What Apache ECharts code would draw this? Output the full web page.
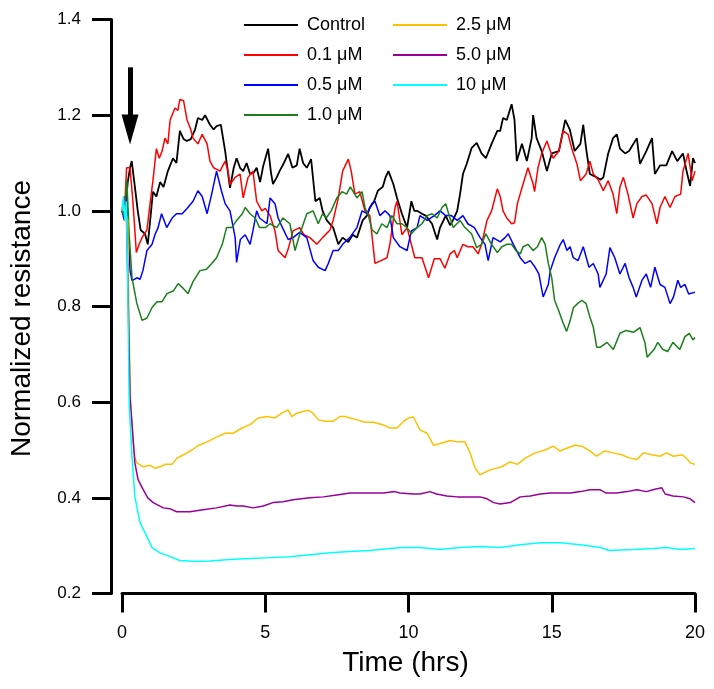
<!DOCTYPE html>
<html>
<head>
<meta charset="utf-8">
<script src="https://cdn.jsdelivr.net/npm/echarts@6/dist/echarts.min.js"></script>
<style>html,body{margin:0;padding:0;background:#fff}#c{width:714px;height:689px}</style>
</head>
<body>
<div id="c"></div>
<script>
const seriesNames = ['Control', '0.1 μM', '0.5 μM', '1.0 μM', '2.5 μM', '5.0 μM', '10 μM'];
const xTicks = [0, 5, 10, 15, 20];
const yTicks = [0.2, 0.4, 0.6, 0.8, 1.0, 1.2, 1.4];
const arrowTime = 0.28;
const arrowFrom = 1.30;
const arrowTo = 1.17;

const control = [[0,1.0],[0.1,0.99],[0.2,1.06],[0.28,1.09],[0.34,1.104],[0.45,1.05],[0.55,1.0],[0.65,0.96],[0.8,0.952],[0.9,0.93],[1.0,0.99],[1.08,1.04],[1.2,1.03],[1.33,1.06],[1.45,1.05],[1.6,1.083],[1.78,1.11],[1.9,1.1],[2.02,1.167],[2.15,1.15],[2.26,1.146],[2.4,1.15],[2.55,1.17],[2.65,1.194],[2.8,1.19],[2.9,1.2],[3.07,1.18],[3.2,1.17],[3.3,1.177],[3.45,1.18],[3.6,1.125],[3.77,1.048],[3.9,1.09],[4.0,1.11],[4.12,1.09],[4.23,1.083],[4.35,1.1],[4.47,1.077],[4.6,1.08],[4.7,1.09],[4.82,1.06],[4.93,1.094],[5.1,1.13],[5.2,1.08],[5.27,1.056],[5.4,1.07],[5.5,1.083],[5.65,1.1],[5.8,1.119],[5.95,1.09],[6.1,1.095],[6.2,1.13],[6.32,1.1],[6.45,1.09],[6.6,1.108],[6.75,1.02],[6.9,1.027],[7.0,1.0],[7.15,0.98],[7.37,0.965],[7.55,0.93],[7.7,0.944],[7.9,0.935],[8.05,0.95],[8.2,0.944],[8.4,0.98],[8.55,0.99],[8.65,1.007],[8.8,1.02],[8.93,1.042],[9.1,1.05],[9.2,1.07],[9.3,1.083],[9.47,1.056],[9.6,1.027],[9.77,0.994],[9.95,0.965],[10.1,1.02],[10.2,1.0],[10.3,1.0],[10.47,0.994],[10.6,0.99],[10.82,0.973],[11.0,0.94],[11.1,0.965],[11.3,0.99],[11.45,0.97],[11.55,0.98],[11.7,1.0],[11.8,1.035],[11.9,1.077],[12.03,1.098],[12.2,1.131],[12.38,1.142],[12.55,1.12],[12.7,1.11],[12.9,1.14],[13.1,1.167],[13.2,1.167],[13.3,1.194],[13.43,1.19],[13.6,1.223],[13.7,1.19],[13.78,1.104],[13.96,1.14],[14.13,1.104],[14.3,1.152],[14.35,1.2],[14.47,1.152],[14.65,1.125],[14.83,1.083],[15.0,1.12],[15.25,1.125],[15.47,1.19],[15.63,1.17],[15.8,1.125],[16.0,1.14],[16.1,1.18],[16.2,1.13],[16.33,1.077],[16.57,1.07],[16.7,1.065],[16.8,1.07],[16.97,1.12],[17.14,1.152],[17.27,1.16],[17.38,1.13],[17.56,1.12],[17.7,1.125],[17.97,1.152],[18.08,1.098],[18.3,1.125],[18.5,1.152],[18.6,1.077],[18.78,1.095],[19.0,1.095],[19.2,1.125],[19.38,1.104],[19.58,1.12],[19.7,1.085],[19.83,1.052],[19.93,1.11],[20,1.1]];

const dose01 = [[0,1.0],[0.08,0.99],[0.16,1.09],[0.28,1.09],[0.38,1.02],[0.45,0.958],[0.5,0.913],[0.6,0.93],[0.7,0.944],[0.87,0.96],[0.98,1.015],[1.08,1.063],[1.2,1.13],[1.3,1.11],[1.4,1.125],[1.5,1.152],[1.6,1.14],[1.68,1.19],[1.85,1.215],[1.95,1.21],[2.02,1.233],[2.15,1.23],[2.27,1.19],[2.4,1.17],[2.48,1.152],[2.65,1.14],[2.8,1.16],[2.97,1.14],[3.07,1.104],[3.2,1.09],[3.42,1.083],[3.6,1.104],[3.7,1.083],[3.77,1.055],[3.95,1.07],[4.12,1.077],[4.23,1.027],[4.4,1.07],[4.57,1.083],[4.7,1.02],[4.88,1.0],[5.0,1.005],[5.17,0.99],[5.34,0.958],[5.45,0.917],[5.69,0.902],[5.8,0.92],[5.97,0.958],[6.2,0.965],[6.35,0.95],[6.56,0.944],[6.8,0.93],[7.0,0.944],[7.26,0.96],[7.37,0.98],[7.55,1.027],[7.7,1.083],[7.9,1.108],[8.0,1.083],[8.13,1.035],[8.3,1.04],[8.48,1.0],[8.65,0.99],[8.83,0.89],[9.0,0.895],[9.25,0.902],[9.35,0.93],[9.53,1.007],[9.6,1.02],[9.77,0.95],[9.95,0.965],[10.1,0.93],[10.22,0.902],[10.47,0.902],[10.7,0.86],[10.9,0.9],[11.1,0.9],[11.27,0.88],[11.45,0.91],[11.6,0.917],[11.7,0.902],[11.9,0.93],[12.07,0.925],[12.25,0.925],[12.43,0.91],[12.55,0.93],[12.74,0.98],[12.9,1.0],[13.1,1.046],[13.2,1.03],[13.3,1.0],[13.43,0.985],[13.6,0.973],[13.7,0.975],[13.8,1.015],[14.0,1.056],[14.17,1.09],[14.35,1.056],[14.4,1.04],[14.52,1.09],[14.65,1.12],[14.83,1.146],[14.95,1.125],[15.05,1.11],[15.25,1.125],[15.4,1.167],[15.57,1.16],[15.7,1.13],[15.88,1.098],[16.0,1.063],[16.2,1.077],[16.33,1.104],[16.45,1.077],[16.62,1.065],[16.8,1.042],[16.97,1.063],[17.14,1.035],[17.27,0.994],[17.38,1.05],[17.5,1.07],[17.66,1.035],[17.84,0.985],[17.97,1.015],[18.15,1.03],[18.3,1.033],[18.5,1.015],[18.67,0.973],[18.78,1.007],[18.95,1.03],[19.13,1.007],[19.3,1.03],[19.5,1.035],[19.58,1.083],[19.76,1.12],[19.9,1.063],[20,1.083]];

const dose05 = [[0,1.0],[0.08,0.98],[0.17,1.027],[0.28,0.875],[0.35,0.854],[0.52,0.86],[0.63,0.857],[0.73,0.875],[0.87,0.917],[1.05,0.93],[1.15,0.95],[1.26,0.965],[1.38,0.994],[1.47,0.98],[1.56,0.965],[1.75,0.985],[1.9,0.994],[2.1,0.994],[2.27,1.005],[2.48,1.02],[2.65,1.042],[2.8,1.03],[2.97,0.994],[3.13,1.035],[3.3,1.083],[3.47,1.042],[3.6,1.015],[3.77,1.0],[3.95,0.944],[4.0,0.892],[4.13,0.94],[4.3,0.95],[4.47,0.93],[4.57,0.958],[4.7,1.0],[4.8,0.985],[5.06,0.973],[5.17,1.027],[5.34,1.015],[5.45,0.985],[5.6,0.965],[5.8,0.94],[5.97,0.944],[6.2,0.955],[6.45,0.944],[6.67,0.896],[6.85,0.882],[7.09,0.875],[7.2,0.89],[7.37,0.917],[7.55,0.917],[7.7,0.93],[7.95,0.944],[8.2,0.965],[8.38,1.0],[8.55,0.994],[8.73,1.015],[8.83,1.02],[9.0,0.99],[9.18,1.0],[9.35,0.99],[9.47,0.944],[9.7,0.925],[9.95,0.917],[10.1,0.958],[10.3,0.965],[10.4,0.99],[10.65,0.98],[10.9,0.99],[11.1,1.0],[11.3,0.99],[11.5,0.99],[11.7,0.98],[11.9,0.99],[12.07,0.973],[12.3,0.965],[12.5,0.944],[12.67,0.93],[12.78,0.896],[12.95,0.944],[13.2,0.935],[13.37,0.944],[13.48,0.952],[13.66,0.93],[13.9,0.902],[14.07,0.89],[14.25,0.896],[14.42,0.882],[14.55,0.868],[14.7,0.82],[14.88,0.846],[14.95,0.875],[15.1,0.902],[15.3,0.93],[15.4,0.94],[15.53,0.917],[15.64,0.925],[15.75,0.902],[15.92,0.896],[16.1,0.925],[16.3,0.882],[16.45,0.89],[16.62,0.868],[16.68,0.84],[16.9,0.868],[17.03,0.923],[17.2,0.902],[17.38,0.868],[17.56,0.89],[17.7,0.86],[17.84,0.84],[17.95,0.82],[18.15,0.855],[18.3,0.868],[18.45,0.84],[18.6,0.882],[18.78,0.846],[18.95,0.84],[19.13,0.806],[19.25,0.82],[19.4,0.855],[19.5,0.84],[19.65,0.846],[19.78,0.826],[20,0.83]];

const dose10 = [[0,1.0],[0.08,0.99],[0.17,1.063],[0.25,0.95],[0.35,0.86],[0.52,0.806],[0.7,0.771],[0.87,0.776],[1.05,0.798],[1.22,0.81],[1.4,0.81],[1.57,0.827],[1.8,0.833],[1.96,0.848],[2.1,0.84],[2.3,0.827],[2.48,0.852],[2.72,0.875],[2.95,0.878],[3.13,0.89],[3.3,0.902],[3.5,0.93],[3.65,0.965],[3.83,0.965],[4.0,0.98],[4.2,0.994],[4.3,1.007],[4.47,0.994],[4.65,0.985],[4.8,0.965],[5.0,0.965],[5.17,0.973],[5.4,0.965],[5.62,0.985],[5.86,0.973],[6.04,0.917],[6.2,0.95],[6.45,0.994],[6.67,1.0],[6.85,0.973],[7.0,0.994],[7.13,0.985],[7.3,1.0],[7.5,1.027],[7.68,1.04],[7.84,1.035],[7.97,1.05],[8.2,1.027],[8.38,1.04],[8.48,1.007],[8.6,0.99],[8.73,0.96],[8.9,0.952],[9.07,0.973],[9.25,0.965],[9.42,0.99],[9.6,0.973],[9.77,0.973],[9.95,0.965],[10.1,0.952],[10.3,0.965],[10.47,0.973],[10.65,0.99],[10.82,0.994],[11.0,0.985],[11.17,1.007],[11.3,1.015],[11.4,0.994],[11.56,0.965],[11.8,0.98],[11.97,0.965],[12.2,0.952],[12.38,0.923],[12.55,0.93],[12.7,0.952],[12.9,0.93],[13.1,0.913],[13.26,0.925],[13.43,0.93],[13.6,0.93],[13.75,0.917],[13.9,0.91],[14.0,0.925],[14.17,0.93],[14.35,0.917],[14.5,0.925],[14.65,0.944],[14.77,0.93],[14.88,0.89],[15.0,0.86],[15.1,0.813],[15.25,0.79],[15.4,0.765],[15.52,0.748],[15.64,0.77],[15.76,0.798],[15.9,0.806],[16.05,0.813],[16.2,0.806],[16.33,0.778],[16.45,0.757],[16.57,0.715],[16.7,0.715],[16.93,0.725],[17.15,0.71],[17.38,0.744],[17.6,0.75],[17.85,0.746],[18.08,0.756],[18.25,0.725],[18.33,0.694],[18.57,0.71],[18.7,0.725],[18.88,0.71],[19.05,0.706],[19.23,0.725],[19.47,0.71],[19.65,0.737],[19.8,0.744],[19.93,0.73],[20,0.735]];

const dose25 = [[0,1.0],[0.08,1.01],[0.2,0.98],[0.25,0.75],[0.3,0.6],[0.38,0.52],[0.45,0.485],[0.52,0.473],[0.73,0.465],[0.98,0.468],[1.15,0.462],[1.33,0.465],[1.5,0.47],[1.75,0.47],[1.92,0.483],[2.15,0.49],[2.44,0.5],[2.68,0.51],[2.97,0.517],[3.3,0.527],[3.6,0.535],[3.88,0.535],[4.18,0.546],[4.47,0.553],[4.75,0.567],[5.05,0.57],[5.34,0.567],[5.58,0.577],[5.8,0.584],[5.93,0.57],[6.1,0.577],[6.28,0.58],[6.5,0.583],[6.67,0.577],[6.85,0.563],[7.1,0.56],[7.37,0.56],[7.6,0.57],[7.77,0.57],[7.96,0.567],[8.2,0.563],[8.48,0.558],[8.77,0.558],[9.1,0.553],[9.35,0.546],[9.6,0.546],[9.83,0.56],[10.0,0.567],[10.17,0.569],[10.4,0.542],[10.65,0.535],[10.87,0.51],[11.2,0.515],[11.45,0.52],[11.7,0.517],[11.97,0.517],[12.15,0.494],[12.32,0.463],[12.5,0.448],[12.75,0.456],[12.95,0.46],[13.25,0.465],[13.55,0.475],[13.8,0.47],[14.07,0.483],[14.42,0.494],[14.77,0.5],[15.05,0.508],[15.28,0.498],[15.5,0.503],[15.8,0.51],[16.05,0.508],[16.33,0.498],[16.56,0.487],[16.85,0.498],[17.14,0.494],[17.44,0.49],[17.73,0.483],[17.97,0.48],[18.2,0.494],[18.5,0.49],[18.78,0.487],[19.0,0.494],[19.25,0.487],[19.55,0.49],[19.7,0.483],[19.84,0.473],[20,0.47]];

const dose50 = [[0,1.0],[0.08,1.03],[0.15,1.0],[0.22,0.8],[0.28,0.61],[0.34,0.563],[0.45,0.473],[0.56,0.438],[0.74,0.417],[0.9,0.4],[1.09,0.39],[1.44,0.379],[1.68,0.377],[1.91,0.371],[2.37,0.371],[2.83,0.375],[3.3,0.379],[3.77,0.385],[4.0,0.383],[4.23,0.383],[4.58,0.379],[4.93,0.383],[5.27,0.39],[5.62,0.392],[5.97,0.396],[6.56,0.4],[7.03,0.402],[7.5,0.406],[7.96,0.41],[8.66,0.41],[9.12,0.41],[9.53,0.413],[9.7,0.41],[10.17,0.408],[10.4,0.408],[10.75,0.413],[10.98,0.408],[11.34,0.404],[11.7,0.402],[12.04,0.402],[12.5,0.402],[12.74,0.398],[12.97,0.39],[13.2,0.387],[13.55,0.39],[13.9,0.402],[14.25,0.404],[14.6,0.408],[14.95,0.41],[15.3,0.41],[15.65,0.41],[16.0,0.413],[16.33,0.417],[16.68,0.417],[16.9,0.41],[17.27,0.41],[17.62,0.413],[17.97,0.417],[18.3,0.413],[18.6,0.418],[18.84,0.421],[18.96,0.408],[19.23,0.404],[19.6,0.402],[19.83,0.398],[20,0.39]];

const dose100 = [[0,1.0],[0.05,1.03],[0.1,0.98],[0.15,1.02],[0.2,0.85],[0.25,0.598],[0.35,0.485],[0.45,0.402],[0.63,0.348],[0.87,0.319],[1.05,0.296],[1.33,0.285],[1.68,0.277],[2.02,0.269],[2.6,0.267],[3.07,0.268],[3.77,0.271],[4.47,0.273],[5.17,0.275],[5.86,0.277],[6.56,0.281],[7.26,0.285],[7.96,0.288],[8.66,0.29],[9.35,0.294],[9.8,0.296],[10.4,0.296],[11.1,0.292],[11.8,0.296],[12.5,0.298],[13.2,0.296],[13.9,0.302],[14.6,0.306],[15.3,0.306],[16.0,0.302],[16.7,0.296],[17.0,0.29],[17.84,0.292],[18.55,0.294],[19.0,0.296],[19.5,0.292],[20,0.294]];

const seriesData = [control, dose01, dose05, dose10, dose25, dose50, dose100];
const colors = ['#000000', '#ff0000', '#0000ff', '#1a7f1a', '#ffc000', '#990099', '#00ffff'];

const chart = echarts.init(document.getElementById('c'), null, {renderer: 'canvas'});
const FONT = 'Liberation Sans, Arial, sans-serif';
const legendIcon = 'path://M0,0H54V2H0Z';

const series = seriesNames.map((name, i) => {
  const s = {
    name: name,
    type: 'line',
    data: seriesData[i],
    showSymbol: false,
    symbol: 'none',
    lineStyle: {color: colors[i], width: i === 0 ? 1.8 : 1.5},
    itemStyle: {color: colors[i]},
    silent: true,
    z: 2 + i
  };
  if (i === 0) {
    s.markLine = {
      silent: true,
      symbol: ['none', 'triangle'],
      symbolSize: [17, 30],
      label: {show: false},
      lineStyle: {color: '#000', width: 5, type: 'solid'},
      data: [[{coord: [arrowTime, arrowFrom]}, {coord: [arrowTime, arrowTo]}]]
    };
  }
  return s;
});

chart.setOption({
  animation: false,
  backgroundColor: '#ffffff',
  grid: {left: 122, right: 19, top: 19.5, bottom: 95.5, containLabel: false},
  legend: [
    {
      data: seriesNames.slice(0, 4),
      orient: 'vertical', left: 244, top: 15, padding: 0,
      itemWidth: 54, itemHeight: 2, itemGap: 10, icon: legendIcon,
      textStyle: {fontFamily: FONT, fontSize: 18, color: '#000', lineHeight: 20, padding: [0, 0, 0, 4]},
      selectedMode: false
    },
    {
      data: seriesNames.slice(4),
      orient: 'vertical', left: 393, top: 15, padding: 0,
      itemWidth: 54, itemHeight: 2, itemGap: 10, icon: legendIcon,
      textStyle: {fontFamily: FONT, fontSize: 18, color: '#000', lineHeight: 20, padding: [0, 0, 0, 4]},
      selectedMode: false
    }
  ],
  xAxis: {
    type: 'value', min: xTicks[0], max: xTicks[xTicks.length - 1], interval: 5,
    name: 'Time (hrs)', nameLocation: 'middle', nameGap: 56,
    nameTextStyle: {fontFamily: FONT, fontSize: 28, color: '#000', padding: [0, 6, 0, 0]},
    axisLine: {show: true, onZero: false, lineStyle: {color: '#000', width: 3}},
    axisTick: {show: true, length: 19, lineStyle: {color: '#000', width: 3}},
    axisLabel: {fontFamily: FONT, fontSize: 18, color: '#000', margin: 31},
    splitLine: {show: false}
  },
  yAxis: {
    type: 'value', min: yTicks[0], max: yTicks[yTicks.length - 1], interval: 0.2,
    offset: 11,
    name: 'Normalized resistance', nameLocation: 'middle', nameGap: 75,
    nameTextStyle: {fontFamily: FONT, fontSize: 28, color: '#000', padding: [0, 24, 0, 0]},
    axisLine: {show: true, onZero: false, lineStyle: {color: '#000', width: 3}},
    axisTick: {show: true, length: 19, lineStyle: {color: '#000', width: 3}},
    axisLabel: {fontFamily: FONT, fontSize: 17, color: '#000', margin: 30, formatter: v => v.toFixed(1)},
    splitLine: {show: false}
  },
  series: series
});
</script>
</body>
</html>
